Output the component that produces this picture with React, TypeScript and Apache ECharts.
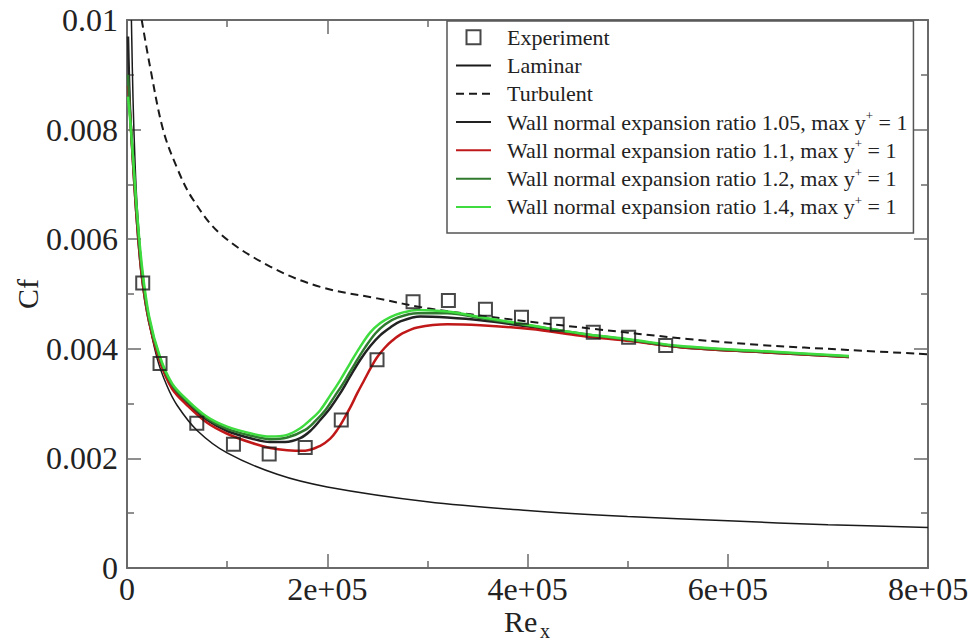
import React, { useEffect, useRef } from "react";
import * as echarts from "echarts";

const xTickLabels = ["0", "2e+05", "4e+05", "6e+05", "8e+05"];
const yTickLabels = ["0", "0.002", "0.004", "0.006", "0.008", "0.01"];

const seriesNames = [
  "Experiment",
  "Laminar",
  "Turbulent",
  "Wall normal expansion ratio 1.05, max y+ = 1",
  "Wall normal expansion ratio 1.1, max y+ = 1",
  "Wall normal expansion ratio 1.2, max y+ = 1",
  "Wall normal expansion ratio 1.4, max y+ = 1",
];

const experiment = [
  [15700, 0.0052], [33000, 0.00373], [69700, 0.00264], [106300, 0.00226],
  [142000, 0.00208], [178000, 0.0022], [214000, 0.0027], [249700, 0.0038],
  [285700, 0.00486], [321000, 0.00488], [358000, 0.00472], [394000, 0.004575],
  [429700, 0.00445], [465700, 0.0043], [501000, 0.00421], [538000, 0.00406],
];

const laminar = [
  [4400, 0.01], [6000, 0.00857], [8000, 0.00742], [10000, 0.00664], [15000, 0.00542],
  [20000, 0.0047], [30000, 0.00383], [40000, 0.00332], [50000, 0.00297], [70000, 0.00251],
  [100000, 0.0021], [150000, 0.00171], [200000, 0.00148], [300000, 0.00121],
  [400000, 0.00105], [500000, 0.00094], [600000, 0.00086], [700000, 0.00079], [800000, 0.00074],
];

const turbulent = [
  [14700, 0.01], [23000, 0.00915], [36000, 0.008], [50000, 0.0073], [65000, 0.00675],
  [93000, 0.0061], [143000, 0.0055], [193000, 0.00513], [250000, 0.00492],
  [300000, 0.00474], [386000, 0.00453], [463000, 0.00437], [560000, 0.00418],
  [633000, 0.00407], [720000, 0.00398], [800000, 0.0039],
];

const ratio105 = [
  [1000, 0.0097], [3000, 0.0084], [6000, 0.0074], [10000, 0.0063], [15000, 0.0053],
  [22000, 0.0045], [33000, 0.00378], [45000, 0.0033], [60000, 0.003], [80000, 0.0027],
  [100000, 0.0025], [125000, 0.00236], [143000, 0.0023], [158000, 0.0023], [173000, 0.00237],
  [183000, 0.0025], [193000, 0.0027], [203000, 0.00292], [213000, 0.00319], [223000, 0.0035],
  [233000, 0.0038], [243000, 0.00405], [253000, 0.00425], [263000, 0.00439], [273000, 0.0045],
  [293000, 0.00459], [320000, 0.00457], [353000, 0.00452], [403000, 0.0044], [453000, 0.00426],
  [503000, 0.00415], [553000, 0.00403], [633000, 0.00394], [721000, 0.00385],
];

const ratio11 = [
  [1000, 0.0088], [3000, 0.0083], [6000, 0.0074], [10000, 0.0063], [15000, 0.0053],
  [22000, 0.0045], [33000, 0.00376], [45000, 0.00327], [60000, 0.00297], [80000, 0.00265],
  [100000, 0.00245], [125000, 0.00228], [143000, 0.00219], [160000, 0.00215], [178000, 0.00214],
  [193000, 0.00223], [203000, 0.00236], [210000, 0.00252], [216000, 0.0027], [223000, 0.00293],
  [230000, 0.00319], [237000, 0.00343], [244000, 0.00367], [250000, 0.00385], [257000, 0.00401],
  [265000, 0.00415], [275000, 0.00428], [290000, 0.00439], [320000, 0.00445], [353000, 0.00443],
  [403000, 0.00436], [453000, 0.00424], [503000, 0.00414], [553000, 0.00403], [633000, 0.00394],
  [721000, 0.00385],
];

const ratio12 = [
  [1000, 0.009], [3000, 0.0083], [6000, 0.0075], [10000, 0.0064], [15000, 0.0054],
  [22000, 0.00455], [33000, 0.00382], [45000, 0.00334], [60000, 0.00304], [80000, 0.00273],
  [100000, 0.00254], [125000, 0.00241], [143000, 0.00235], [160000, 0.00238], [178000, 0.00252],
  [188000, 0.00268], [198000, 0.00288], [208000, 0.00315], [218000, 0.00343], [228000, 0.00374],
  [238000, 0.00403], [248000, 0.00428], [258000, 0.00445], [270000, 0.00457], [290000, 0.00465],
  [320000, 0.00465], [353000, 0.00456], [403000, 0.00442], [453000, 0.00428], [503000, 0.00416],
  [553000, 0.00404], [633000, 0.00395], [721000, 0.00386],
];

const ratio14 = [
  [1000, 0.0086], [3000, 0.0082], [6000, 0.0075], [10000, 0.0065], [15000, 0.0055],
  [22000, 0.0046], [33000, 0.00385], [45000, 0.00337], [60000, 0.00307], [80000, 0.00276],
  [100000, 0.00258], [125000, 0.00245], [143000, 0.0024], [160000, 0.00243], [173000, 0.00255],
  [183000, 0.0027], [193000, 0.00288], [203000, 0.00315], [213000, 0.00343], [223000, 0.00374],
  [233000, 0.00404], [243000, 0.0043], [253000, 0.00447], [263000, 0.00458], [273000, 0.00465],
  [290000, 0.00471], [320000, 0.00468], [353000, 0.00458], [403000, 0.00443], [453000, 0.00428],
  [503000, 0.00417], [553000, 0.00405], [633000, 0.00396], [721000, 0.00387],
];

const FONT = "'Liberation Serif', 'Times New Roman', serif";
const AXIS_COLOR = "#6a6a6a";
const TEXT_COLOR = "#222";

export default function App() {
  const ref = useRef<HTMLDivElement>(null);

  useEffect(() => {
    if (!ref.current) return;
    const chart = echarts.init(ref.current, undefined, { renderer: "svg" });

    const tickCommon = {
      axisLine: { show: true, onZero: false, lineStyle: { color: AXIS_COLOR, width: 2 } },
      axisTick: { show: true, inside: true, length: 14, lineStyle: { color: AXIS_COLOR, width: 1.5 } },
      minorTick: { show: true, splitNumber: 2, length: 7, lineStyle: { color: AXIS_COLOR, width: 1.5 } },
      splitLine: { show: false },
    };

    const lineSeries = (name: string, data: number[][], color: string, width: number, extra: any = {}) => ({
      name,
      type: "line",
      data,
      symbol: "none",
      smooth: 0.35,
      lineStyle: { color, width, ...extra },
      itemStyle: { color },
      z: 3,
    });

    const hiddenSymbol = { color: "rgba(0,0,0,0)", borderWidth: 0, borderColor: "rgba(0,0,0,0)" };

    chart.setOption({
      animation: false,
      backgroundColor: "#ffffff",
      textStyle: { fontFamily: FONT },
      grid: { left: 127, right: 44, top: 20, bottom: 76 },
      xAxis: [
        {
          type: "value",
          min: 0,
          max: 800000,
          interval: 200000,
          position: "bottom",
          ...tickCommon,
          axisLabel: {
            fontFamily: FONT,
            fontSize: 32,
            color: TEXT_COLOR,
            margin: 5,
            formatter: (v: number) => xTickLabels[Math.round(v / 200000)] ?? "",
          },
        },
        {
          type: "value",
          min: 0,
          max: 800000,
          interval: 200000,
          position: "top",
          ...tickCommon,
          axisLabel: { show: false },
        },
      ],
      yAxis: [
        {
          type: "value",
          min: 0,
          max: 0.01,
          interval: 0.002,
          position: "left",
          ...tickCommon,
          axisLabel: {
            fontFamily: FONT,
            fontSize: 32,
            color: TEXT_COLOR,
            margin: 9,
            formatter: (v: number) => yTickLabels[Math.round(v / 0.002)] ?? "",
          },
        },
        {
          type: "value",
          min: 0,
          max: 0.01,
          interval: 0.002,
          position: "right",
          ...tickCommon,
          axisLabel: { show: false },
        },
      ],
      legend: {
        show: true,
        orient: "vertical",
        left: 447,
        top: 21,
        padding: [2, 6, 12, 8],
        itemGap: 0,
        itemWidth: 35,
        itemHeight: 14,
        backgroundColor: "#ffffff",
        borderColor: "#555",
        borderWidth: 1.5,
        borderRadius: 0,
        data: seriesNames.map((name, i) =>
          i === 0
            ? {
                name,
                icon: "path://M0,0H10V10H0Z",
                itemStyle: { color: "rgba(255,255,255,0)", borderColor: "#1a1a1a", borderWidth: 2 },
              }
            : { name, itemStyle: hiddenSymbol }
        ),
        formatter: (name: string) => name.replace("y+ ", "y{sup|+} "),
        textStyle: {
          fontFamily: FONT,
          fontSize: 22,
          color: TEXT_COLOR,
          lineHeight: 28.3,
          padding: [0, 0, 0, 11],
          rich: {
            sup: { fontFamily: FONT, fontSize: 13, color: TEXT_COLOR, padding: [0, 0, 13, 0] },
          },
        },
      },
      graphic: [
        {
          type: "text",
          x: 27,
          y: 294,
          rotation: Math.PI / 2,
          style: {
            text: "Cf",
            font: `30px ${FONT}`,
            fill: TEXT_COLOR,
            align: "center",
            verticalAlign: "middle",
          },
        },
        {
          type: "text",
          x: 504,
          y: 606,
          style: { text: "Re", font: `30px ${FONT}`, fill: TEXT_COLOR, align: "left", verticalAlign: "top" },
        },
        {
          type: "text",
          x: 540,
          y: 621,
          style: { text: "x", font: `20px ${FONT}`, fill: TEXT_COLOR, align: "left", verticalAlign: "top" },
        },
      ],
      series: [
        {
          name: seriesNames[0],
          type: "scatter",
          data: experiment,
          symbol: "rect",
          symbolSize: 13,
          itemStyle: { color: "rgba(255,255,255,0)", borderColor: "#1a1a1a", borderWidth: 2 },
          z: 5,
        },
        lineSeries(seriesNames[1], laminar, "#1a1a1a", 1.5),
        lineSeries(seriesNames[2], turbulent, "#1a1a1a", 2, { type: [8, 5] }),
        lineSeries(seriesNames[3], ratio105, "#222222", 2.5),
        lineSeries(seriesNames[4], ratio11, "#c01818", 2.5),
        lineSeries(seriesNames[5], ratio12, "#2f7a2f", 2.5),
        lineSeries(seriesNames[6], ratio14, "#3fdc3f", 2.5),
      ],
    });

    return () => chart.dispose();
  }, []);

  return (
    <div
      ref={ref}
      style={{ position: "fixed", left: 0, top: 0, width: 972, height: 644, background: "#fff" }}
    />
  );
}
